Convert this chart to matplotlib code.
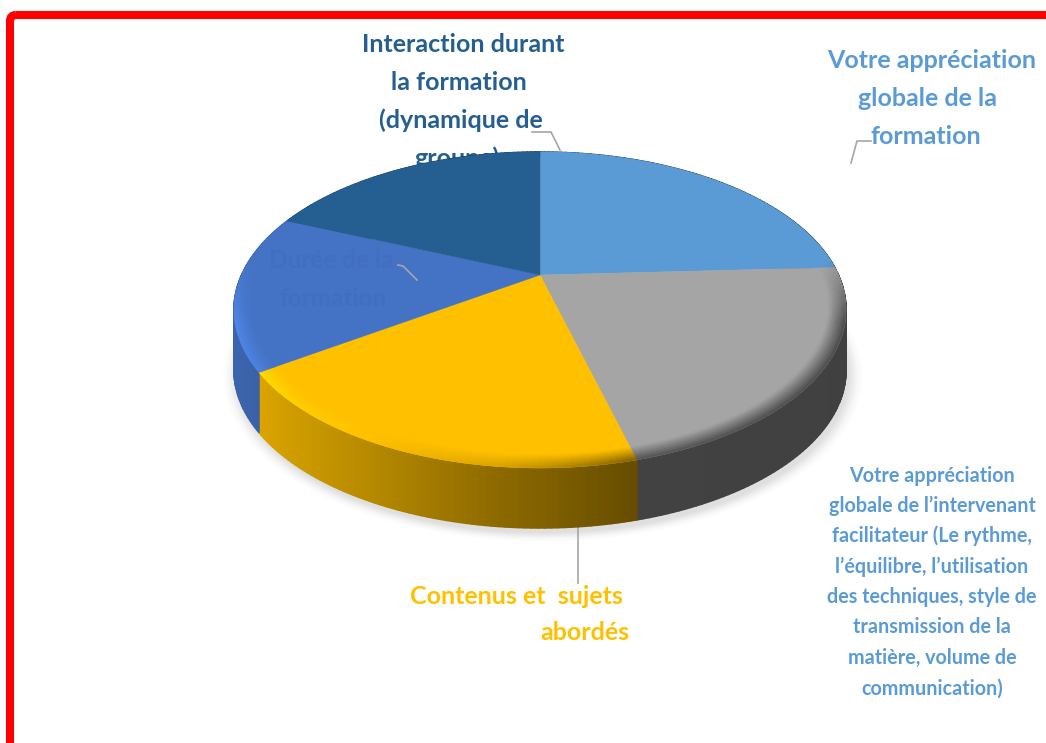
import numpy as np
import matplotlib
matplotlib.use('Agg')
import matplotlib.pyplot as plt
from matplotlib.collections import PolyCollection
from matplotlib.patches import FancyBboxPatch, Polygon

# shares of the pie (clockwise from the top)
categories = ['Votre appréciation globale de la formation',
              'Votre appréciation globale de l’intervenant',
              'Contenus et sujets abordés',
              'Durée de la formation',
              'Interaction durant la formation']
values = [24.2, 21.7, 19.5, 16.0, 18.6]
colors = ['#5b9bd5', '#a5a5a5', '#ffc000', '#4472c4', '#255e91']

label_top = ['Votre appréciation', 'globale de la', 'formation']
label_inter = ['Interaction durant', 'la formation', '(dynamique de', 'groupe)']
label_duree = ['Durée de la', 'formation']
label_small = ['Votre appréciation', 'globale de l’intervenant', 'facilitateur (Le rythme,',
               'l’équilibre, l’utilisation', 'des techniques, style de',
               'transmission de la', 'matière, volume de', 'communication)']

FONT = 'Lato'
cx, cy = 540, 275
A, B, K = 298.4, 150.2, 0.2215
DEPTH = 60
BEVEL = 0.055


# circle seen in perspective
def project(r, theta):
    u = r * np.sin(theta)
    v = r * np.cos(theta)
    w = 1 + K * v
    return cx + A * u / w, cy - B * v / w


def wall_shade(x):
    return np.interp(x, [240, 262, 500, 636, 846], [0.88, 0.85, 0.55, 0.40, 0.39])


def rim_shade(x):
    return np.interp(x, [234, 300, 500, 636, 846], [1.18, 1.08, 0.85, 0.50, 0.45])


def rgb(c):
    return np.array(matplotlib.colors.to_rgb(c))


fig = plt.figure(figsize=(10.46, 7.43), dpi=100)
ax = fig.add_axes([0, 0, 1, 1])
ax.set_xlim(0, 1046)
ax.set_ylim(743, 0)
ax.axis('off')

# red frame, runs off the right and bottom
ax.add_patch(FancyBboxPatch((10, 15), 1100, 800, boxstyle='round,pad=0,rounding_size=6',
                            fc='none', ec='#ff0000', lw=5.8, zorder=1))

# slice limits
fracs = np.array(values) / sum(values)
edges = np.concatenate([[0], np.cumsum(fracs)]) * 2 * np.pi

# soft shadow below the pie
full = np.linspace(0, 2 * np.pi, 361)
sx, sy = project(1.0, full)
for grow, alpha in zip(np.linspace(1.045, 1.0, 10), [0.008] * 4 + [0.014] * 6):
    px = cx + 3 + (sx - cx) * grow
    py = cy + 35 + (sy - cy) * grow + DEPTH - 30
    ax.add_patch(Polygon(np.column_stack([px, py]), fc='black', ec='none', alpha=alpha, zorder=2))

# side wall
quads, cols = [], []
for i, c in enumerate(colors):
    n = max(int(np.degrees(edges[i + 1] - edges[i])), 2)
    t = np.linspace(edges[i], edges[i + 1], n + 1)
    x, y = project(1.0, t)
    for j in range(n):
        quads.append([(x[j], y[j]), (x[j + 1], y[j + 1]),
                      (x[j + 1], y[j + 1] + DEPTH), (x[j], y[j] + DEPTH)])
        cols.append(rgb(c) * wall_shade((x[j] + x[j + 1]) / 2))
ax.add_collection(PolyCollection(quads, facecolors=cols, edgecolors=cols, linewidths=1.2, zorder=3))

# flat top of every slice
for i, c in enumerate(colors):
    t = np.linspace(edges[i], edges[i + 1], 200)
    x, y = project(1.0, t)
    ax.add_patch(Polygon(np.column_stack([np.r_[cx, x], np.r_[cy, y]]), fc=c, ec=c, lw=0.3, zorder=4))

# rounded edge at the front of the top
quads, cols = [], []
rings = np.linspace(1 - BEVEL, 1, 9)
for i, c in enumerate(colors):
    base = rgb(c)
    n = max(int(np.degrees(edges[i + 1] - edges[i])), 2)
    t = np.linspace(edges[i], edges[i + 1], n + 1)
    for k in range(len(rings) - 1):
        x0, y0 = project(rings[k], t)
        x1, y1 = project(rings[k + 1], t)
        f = (k + 0.5) / (len(rings) - 1)
        for j in range(n):
            tm = (t[j] + t[j + 1]) / 2
            w = np.clip((0.1 - np.cos(tm)) / 0.4, 0, 1)
            rim = np.clip(base * rim_shade((x1[j] + x1[j + 1]) / 2), 0, 1)
            quads.append([(x0[j], y0[j]), (x0[j + 1], y0[j + 1]), (x1[j + 1], y1[j + 1]), (x1[j], y1[j])])
            cols.append(base * (1 - w * f) + rim * w * f)
ax.add_collection(PolyCollection(quads, facecolors=cols, edgecolors=cols, linewidths=0.4, zorder=5))

# leader lines
leader = dict(color='#a6a6a6', lw=1.2, zorder=2)
ax.plot([532, 551, 560], [132, 132, 150], **leader)
ax.plot([871, 857, 851], [141, 141, 163], **leader)
ax.plot([578, 578], [528, 583], **leader)
ax.plot([398, 403, 417], [265, 266, 280], color='#a6a6a6', lw=1.2, zorder=7)

# labels, the one of the interaction goes behind the pie
for s, x, y in zip(label_top, [932, 928, 926], [60, 98, 136]):
    ax.text(x, y, s, color='#5b9bd5', fontsize=18, fontweight='bold', family=FONT,
            ha='center', va='center', zorder=6)
for s, x, y in zip(label_inter, [463, 459, 461, 457], [45, 82, 120, 158]):
    ax.text(x, y, s, color='#255e91', fontsize=18, fontweight='bold', family=FONT,
            ha='center', va='center', zorder=2)
for s, x, y in zip(label_duree, [331, 333], [261, 298]):
    ax.text(x, y, s, color='#426ec2', fontsize=17.5, fontweight='bold', family=FONT,
            ha='center', va='center', zorder=6)
for s, y in zip(label_small, [476, 506, 536, 567, 597, 627, 658, 689]):
    ax.text(932, y, s, color='#5b9bd5', fontsize=14.2, fontweight='bold', family=FONT,
            ha='center', va='center', zorder=6)
ax.text(516, 597, 'Contenus et  sujets', color='#ffc000', fontsize=18, fontweight='bold', family=FONT,
        ha='center', va='center', zorder=6)
ax.text(585, 632, 'abordés', color='#ffc000', fontsize=18, fontweight='bold', family=FONT,
        ha='center', va='center', zorder=6)

fig.savefig('out.png', dpi=100, facecolor='white')
